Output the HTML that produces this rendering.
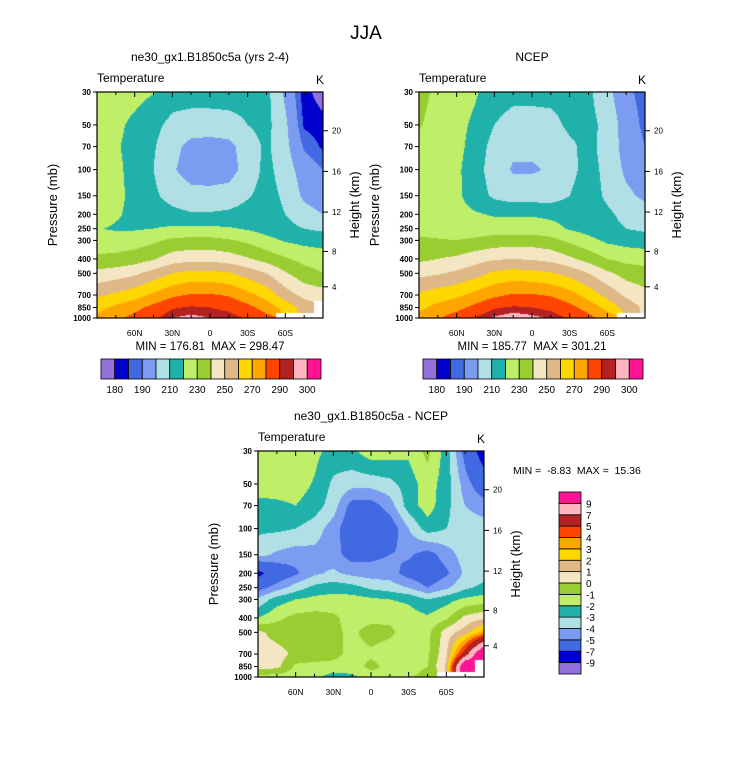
<!DOCTYPE html>
<html><head><meta charset="utf-8"><style>
body{margin:0;background:#fff;width:733px;height:772px;overflow:hidden;position:relative;font-family:"Liberation Sans",Arial,sans-serif}
canvas{position:absolute}
svg{position:absolute;left:0;top:0}
text{white-space:pre}
</style></head><body>
<canvas id="c1" style="left:97px;top:92px" width="226" height="226"></canvas>
<canvas id="c2" style="left:419px;top:92px" width="226" height="226"></canvas>
<canvas id="c3" style="left:258px;top:451px" width="226" height="226"></canvas>
<svg id="ov" width="733" height="772"></svg>
<script>
const lats=[90,75,60,45,30,15,0,-15,-30,-45,-60,-75,-90];
const pLevels=[30,50,70,100,150,200,250,300,400,500,700,850,1000];
const N=NaN;
const modelT=[
[226,224,223,220.5,215,215,215,215,214,213,198,182,177],
[225,222,218,213,207,205,205,206,210,213,202,184,182],
[225,221,217,211,203,197,196,197,205,212,203,189,184],
[226,222,217,210,201,196,195,196,204,213,205,195,190],
[226,222,218,212,206,203,203,204,209,214,208,198,194],
[225,221,218,216,213,211,211,212,214,215,210,204,200],
[220.5,219,219,220,221.5,222,222,221,219,216,213,210,208],
[224,224,225,228,232,233,233,231,228,223,219,217,216],
[232,233,235,239,245,247,247,245,241,236,231,227,225],
[243,245,248,254,260,263,263,261,256,250,241,234,230],
[258,262,266,272,278,281,281,279,273,266,255,247,245],
[267,272,277,283,289,291,290,288,283,276,266,256,N],
[272,278,283,288,295,297,295,293,289,283,N,N,N]];
const ncepT=[
[233,228,225,221,215,213,213,213,213,212,203,192,187],
[231,226,223,218,210,206,206,207,212,213,207,195,188],
[227,225,223,216,206,202,202,203,208,213,206,196,190],
[226,224,222,214,205,199,199,201,207,214,207,198,195],
[226,224,222,215,208,205,205,205,210,215,208,202,198],
[225,224,223,221,219,219,219,218,217,216,212,207,204],
[226,225,224,224,225,225,225,223,219,216,213,210,208],
[232,231,230,232,234,235,235,233,228,223,218,216,215],
[238,240,242,246,249,250,249,247,242,236,230,227,226],
[247,249,252,256,262,264,263,261,257,250,242,236,234],
[262,265,268,273,278,281,281,279,274,266,257,248,243],
[268,273,277,283,289,291,290,288,283,276,267,256,248],
[273,279,285,291,296,299,297,294,289,283,275,N,N]];
const diffT=[
[-1.5,-1.5,-1.5,-1.7,-2.4,-2.2,-1.4,-1.5,-1.8,-0.7,-2.5,-5.5,-8],
[-1.5,-1.5,-1.5,-2.1,-3.2,-3.6,-3.6,-3.3,-2.5,-1.5,-2.5,-4.5,-6],
[-2.3,-2.2,-2.0,-2.5,-3.5,-5.5,-5.5,-4.5,-2.5,-1.5,-2.7,-4,-4.5],
[-2.8,-2.8,-3.0,-3.5,-4.5,-6,-6,-5.8,-4,-2.5,-3,-3.5,-3.5],
[-3.6,-4.2,-4.5,-4.3,-4.6,-5.5,-5.3,-5.0,-4.8,-5.5,-4.5,-3.5,-3.5],
[-7.5,-6,-5.2,-4.2,-3.8,-4.3,-4.5,-4.5,-5.5,-6,-5.2,-3.8,-3.5],
[-5.5,-4.5,-3.5,-2.7,-2.4,-2.6,-3.2,-3.5,-4,-5,-4.2,-3.2,-2.7],
[-3.8,-2.5,-2.0,-1.7,-1.6,-1.6,-1.8,-2.0,-2.2,-3.0,-2.4,-1.8,-1.5],
[-2.0,-1.2,-0.7,-0.6,-0.8,-1.4,-1.3,-1.2,-1.5,-1.8,-1.2,0.3,0.8],
[0.3,-0.5,-0.7,-0.6,-0.8,-1.2,-0.6,-0.8,-1.5,-1.3,0.5,1.5,3.5],
[0.6,0.5,-0.3,-0.5,-0.7,-1.3,-1.2,-1.5,-1.4,-1.2,0.8,6,12],
[0.5,0.3,-1.2,-1.3,-1.3,-1.5,-0.7,-1.3,-1.5,-1.0,1.2,12,N],
[-1.3,-1.5,-1.5,-1.7,-2.5,-2.2,-1.5,-1.5,-1.2,-0.5,N,N,N]];
const tLevels=[180,185,190,200,210,220,230,240,250,260,270,280,290,295,300];
const tLabels=["180","","190","","210","","230","","250","","270","","290","","300"];
const dLevels=[-9,-7,-5,-4,-3,-2,-1,0,1,2,3,4,5,7,9];
const dLabels=["-9","-7","-5","-4","-3","-2","-1","0","1","2","3","4","5","7","9"];
const colors=["#9370db","#0000cd","#4169e1","#7b9cf0","#b0e0e6","#20b2aa","#bfee68","#9acd32","#f5e6c3","#deb887","#ffd700","#ffa500","#ff4500","#b22222","#ffb6c1","#ff1493"];
const latTicks=[60,30,0,-30,-60];
const latTickLabels=["60N","30N","0","30S","60S"];
const heightTicks=[4,8,12,16,20];
const PW=226,PH=226,LP=Math.log(1000/30);
function yOfP(p){return Math.log(p/30)/LP*PH;}
function xOfLat(l){return (90-l)/180*PW;}
function pOfZ(z){return z<11?1013.25*Math.pow(1-z/44.33,5.256):226.3*Math.exp(-(z-11)/6.34);}
function hexRGB(h){return [parseInt(h.substr(1,2),16),parseInt(h.substr(3,2),16),parseInt(h.substr(5,2),16)];}
const rgb=colors.map(hexRGB);
function colorIdx(v,lev){let i=0;while(i<lev.length&&v>=lev[i])i++;return i;}
function draw(id,grid,lev){
  const cv=document.getElementById(id),ctx=cv.getContext('2d');
  const img=ctx.createImageData(PW,PH);
  for(let py=0;py<PH;py++){
    const p=30*Math.exp((py+0.5)/PH*LP);
    let r=0;while(r<pLevels.length-2&&p>pLevels[r+1])r++;
    let fy=Math.log(p/pLevels[r])/Math.log(pLevels[r+1]/pLevels[r]);fy=Math.max(0,Math.min(1,fy));
    for(let px=0;px<PW;px++){
      const lat=90-(px+0.5)/PW*180;
      let c=0;while(c<lats.length-2&&lat<lats[c+1])c++;
      let fx=(lats[c]-lat)/(lats[c]-lats[c+1]);fx=Math.max(0,Math.min(1,fx));
      const nr=fy<0.5?r:r+1,nc=fx<0.5?c:c+1;
      const k=(py*PW+px)*4;
      if(isNaN(grid[nr][nc])){img.data[k]=255;img.data[k+1]=255;img.data[k+2]=255;img.data[k+3]=255;continue;}
      const pts=[[grid[r][c],(1-fx)*(1-fy)],[grid[r][c+1],fx*(1-fy)],[grid[r+1][c],(1-fx)*fy],[grid[r+1][c+1],fx*fy]];
      let s=0,w=0;pts.forEach(q=>{if(!isNaN(q[0])){s+=q[0]*q[1];w+=q[1];}});
      const v=s/w;const col=rgb[colorIdx(v,lev)];
      img.data[k]=col[0];img.data[k+1]=col[1];img.data[k+2]=col[2];img.data[k+3]=255;
    }
  }
  ctx.putImageData(img,0,0);
}
draw('c1',modelT,tLevels);draw('c2',ncepT,tLevels);draw('c3',diffT,dLevels);
const NS="http://www.w3.org/2000/svg",ov=document.getElementById('ov');
function el(t,a,txt){const e=document.createElementNS(NS,t);for(const k in a)e.setAttribute(k,a[k]);if(txt!==undefined)e.textContent=txt;ov.appendChild(e);return e;}
function text(x,y,s,size,anchor,name,extra){const e=el('text',Object.assign({x:x,y:y,'font-size':size,'text-anchor':anchor||'middle','font-family':'Liberation Sans, sans-serif'},extra||{}),s);

return e;}
function line(x1,y1,x2,y2,name){const e=el('line',{x1:x1,y1:y1,x2:x2,y2:y2,stroke:'#000','stroke-width':1});

}
function axes(X,Y,title,pfx){
  const b=el('rect',{x:X,y:Y,width:PW,height:PH,fill:'none',stroke:'#000','stroke-width':1.2});
  
  
  text(X+PW/2,Y-31,title,12,'middle',pfx+'-title');
  text(X,Y-10,'Temperature',12,'start',pfx+'-variable-label');
  text(X+PW-3,Y-8,'K',12,'middle',pfx+'-units-label');
  for(let l=75;l>=-75;l-=15){const x=X+xOfLat(l);const big=(l%30===0);
    line(x,Y,x,Y+(big?5:3),pfx+'-top-tick');line(x,Y+PH,x,Y+PH-(big?5:3),pfx+'-bottom-tick');}
  latTicks.forEach((l,i)=>text(X+xOfLat(l),Y+PH+18,latTickLabels[i],8.5,'middle',pfx+'-x-tick-label'));
  pLevels.forEach(p=>{const y=Y+yOfP(p);line(X-4,y,X,y,pfx+'-y-tick');text(X-6,y+3,String(p),8,'end',pfx+'-y-tick-label',{'font-weight':'bold'});});
  heightTicks.forEach(h=>{const y=Y+yOfP(pOfZ(h));line(X+PW,y,X+PW+5,y,pfx+'-height-tick');text(X+PW+9,y+3,String(h),8,'start',pfx+'-height-tick-label');});
  text(X-40,Y+PH/2,'Pressure (mb)',13,'middle',pfx+'-y-axis-title',{transform:'rotate(-90 '+(X-40)+' '+(Y+PH/2)+')'});
  text(X+PW+36,Y+PH/2,'Height (km)',13,'middle',pfx+'-height-axis-title',{transform:'rotate(-90 '+(X+PW+36)+' '+(Y+PH/2)+')'});
}
function hbar(X,Y,W,H,pfx){const bw=W/colors.length;
  colors.forEach((c,i)=>{const r=el('rect',{x:X+i*bw,y:Y,width:bw,height:H,fill:c,stroke:'#000','stroke-width':0.8});
  
  });
  tLabels.forEach((s,i)=>{if(s)text(X+(i+1)*bw,Y+H+14,s,10,'middle',pfx+'-colorbar-label');});
}
function vbar(X,Y,W,H,pfx){const bh=H/colors.length;
  colors.forEach((c,i)=>{const r=el('rect',{x:X,y:Y+H-(i+1)*bh,width:W,height:bh,fill:c,stroke:'#000','stroke-width':0.8});
  
  });
  dLabels.forEach((s,i)=>text(X+W+5,Y+H-(i+1)*bh+4,s,10,'start',pfx+'-colorbar-label'));
}
text(366,39,'JJA',19,'middle','main-title');
axes(97,92,'ne30_gx1.B1850c5a (yrs 2-4)','model');
axes(419,92,'NCEP','ncep');
axes(258,451,'ne30_gx1.B1850c5a - NCEP','diff');
text(210,350,'MIN = 176.81  MAX = 298.47',11.5,'middle','model-min-max');
text(532,350,'MIN = 185.77  MAX = 301.21',11.5,'middle','ncep-min-max');
text(513,474,'MIN =  -8.83  MAX =  15.36',10.5,'start','diff-min-max');
hbar(101,359,220,20,'model');
hbar(423,359,220,20,'ncep');
vbar(559,492,22,182,'diff');
</script>
</body></html>
